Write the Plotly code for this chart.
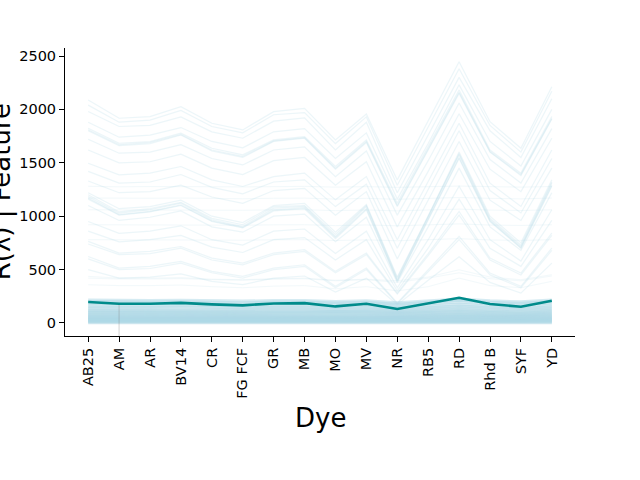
import plotly.graph_objects as go

dyes = ["AB25", "AM", "AR", "BV14", "CR", "FG FCF", "GR", "MB", "MO", "MV",
        "NR", "RB5", "RD", "Rhd B", "SYF", "YD"]

# mean profile (thick teal line)
mean_vals = [196, 180, 180, 188, 174, 165, 183, 186, 155, 180, 131, 180, 236, 177, 152, 208]

# individual feature profiles (faint lines)
upper_lines = [
    [2088, 1917, 1933, 2026, 1870, 1808, 1979, 2010, 1714, 1957, 1340, 1890, 2447, 1885, 1636, 2213],
    [2040, 1880, 1900, 1990, 1840, 1780, 1950, 1970, 1680, 1930, 1290, 1840, 2380, 1850, 1600, 2170],
    [1980, 1840, 1850, 1930, 1790, 1730, 1890, 1920, 1620, 1880, 1220, 1760, 2300, 1800, 1550, 2100],
    [1880, 1740, 1760, 1830, 1700, 1640, 1790, 1820, 1540, 1780, 1160, 1680, 2230, 1700, 1470, 2000],
    [1823, 1683, 1699, 1777, 1636, 1574, 1714, 1746, 1465, 1714, 1122, 1650, 2182, 1620, 1403, 1933],
    [1810, 1670, 1690, 1765, 1620, 1560, 1705, 1735, 1450, 1700, 1100, 1630, 2160, 1605, 1390, 1915],
    [1800, 1660, 1680, 1760, 1610, 1550, 1700, 1730, 1440, 1690, 1090, 1620, 2150, 1600, 1380, 1910],
    [1720, 1590, 1600, 1670, 1540, 1480, 1620, 1650, 1370, 1610, 1010, 1520, 2060, 1530, 1310, 1820],
    [1620, 1500, 1510, 1580, 1450, 1390, 1520, 1550, 1290, 1510, 900, 1420, 1960, 1440, 1230, 1730],
    [1496, 1387, 1403, 1465, 1340, 1278, 1371, 1403, 1153, 1371, 779, 1320, 1870, 1309, 1091, 1620],
    [1420, 1310, 1320, 1390, 1270, 1210, 1320, 1340, 1090, 1300, 700, 1250, 1800, 1240, 1030, 1540],
    [1330, 1220, 1230, 1290, 1180, 1120, 1240, 1260, 1010, 1230, 600, 1150, 1700, 1150, 960, 1450],
    [1220, 1070, 1090, 1150, 1000, 940, 1100, 1120, 850, 1110, 430, 1000, 1600, 1000, 750, 1340],
    [1184, 1028, 1060, 1122, 966, 903, 1075, 1091, 810, 1091, 405, 990, 1574, 966, 716, 1309],
    [1200, 1040, 1070, 1130, 980, 920, 1090, 1100, 830, 1100, 420, 1000, 1585, 980, 730, 1320],
    [1170, 1015, 1045, 1105, 955, 895, 1060, 1080, 800, 1070, 395, 970, 1550, 955, 705, 1290],
    [1160, 1010, 1040, 1100, 950, 890, 1050, 1070, 790, 1060, 390, 960, 1540, 950, 700, 1280],
    [1100, 960, 990, 1050, 900, 850, 1000, 1020, 760, 990, 380, 900, 1450, 900, 680, 1220],
    [950, 840, 860, 910, 780, 730, 860, 880, 650, 860, 330, 780, 1280, 780, 580, 1060],
    [860, 760, 780, 820, 710, 660, 780, 800, 590, 780, 300, 700, 1160, 700, 530, 960],
    [764, 655, 670, 716, 607, 561, 655, 686, 483, 655, 280, 650, 1044, 607, 467, 841],
    [740, 640, 650, 700, 590, 545, 640, 670, 470, 640, 270, 630, 1010, 590, 450, 820],
    [623, 514, 530, 577, 483, 436, 514, 545, 343, 514, 187, 500, 810, 467, 343, 701],
    [600, 500, 510, 560, 470, 420, 500, 530, 330, 500, 180, 480, 780, 450, 330, 680],
    [500, 420, 430, 460, 390, 360, 420, 440, 290, 420, 170, 400, 620, 380, 280, 560],
]

flat_lines = [
    [1280, 1275, 1278, 1280, 1276, 1274, 1278, 1279, 1272, 1277, 1270, 1276, 1282, 1277, 1272, 1278],
    [1170, 1166, 1168, 1170, 1165, 1163, 1168, 1169, 1160, 1167, 1158, 1166, 1175, 1167, 1162, 1170],
    [1060, 1058, 1059, 1061, 1057, 1055, 1059, 1060, 1052, 1058, 1050, 1058, 1066, 1057, 1053, 1060],
    [920, 918, 919, 921, 917, 915, 919, 920, 912, 918, 910, 918, 928, 917, 913, 920],
    [780, 778, 779, 781, 777, 775, 779, 780, 772, 778, 770, 778, 790, 777, 773, 780],
    [436, 420, 420, 425, 410, 405, 415, 420, 400, 410, 395, 430, 498, 430, 405, 452],
    [420, 412, 412, 416, 405, 400, 410, 414, 395, 405, 380, 420, 470, 415, 395, 440],
    [358, 350, 350, 355, 340, 330, 345, 350, 320, 340, 300, 340, 420, 350, 330, 390],
]

low_lines = [
    [215, 210, 210, 212, 208, 205, 210, 211, 200, 208, 190, 205, 225, 207, 198, 215],
    [200, 196, 196, 198, 193, 190, 196, 197, 186, 194, 175, 192, 212, 193, 184, 202],
    [185, 181, 182, 183, 179, 176, 181, 182, 172, 180, 162, 178, 196, 178, 170, 188],
    [165, 162, 162, 164, 160, 158, 162, 163, 154, 161, 146, 160, 176, 160, 152, 168],
    [150, 147, 147, 149, 145, 143, 147, 148, 140, 146, 132, 145, 160, 145, 138, 153],
    [135, 133, 133, 134, 131, 129, 133, 134, 127, 132, 120, 131, 144, 131, 125, 138],
    [120, 118, 118, 119, 116, 115, 118, 119, 113, 117, 107, 117, 128, 116, 111, 123],
    [110, 108, 108, 109, 107, 105, 108, 109, 103, 107, 98, 107, 117, 106, 101, 112],
    [100, 98, 98, 99, 97, 96, 98, 99, 94, 97, 90, 97, 106, 97, 92, 102],
    [90, 88, 88, 89, 87, 86, 88, 89, 85, 87, 81, 87, 95, 87, 83, 92],
    [80, 79, 79, 80, 78, 77, 79, 79, 76, 78, 73, 78, 85, 78, 74, 82],
    [72, 71, 71, 72, 70, 69, 71, 71, 68, 70, 66, 70, 76, 70, 67, 74],
    [64, 63, 63, 64, 62, 61, 63, 63, 61, 62, 59, 62, 68, 62, 60, 66],
    [57, 56, 56, 57, 55, 55, 56, 56, 54, 55, 52, 55, 60, 55, 53, 58],
    [50, 49, 49, 50, 49, 48, 49, 49, 48, 49, 46, 49, 53, 49, 47, 51],
    [44, 43, 43, 44, 43, 42, 43, 43, 42, 43, 41, 43, 46, 43, 41, 45],
    [38, 37, 37, 38, 37, 36, 37, 37, 36, 37, 35, 37, 40, 37, 35, 39],
    [32, 31, 31, 32, 31, 31, 31, 31, 30, 31, 30, 31, 34, 31, 30, 33],
    [26, 26, 26, 26, 25, 25, 26, 26, 25, 25, 24, 25, 28, 25, 24, 27],
    [20, 20, 20, 20, 20, 19, 20, 20, 19, 20, 19, 20, 22, 20, 19, 21],
    [14, 14, 14, 14, 14, 13, 14, 14, 13, 14, 13, 14, 15, 14, 13, 15],
    [8, 8, 8, 8, 8, 8, 8, 8, 8, 8, 7, 8, 9, 8, 8, 9],
    [3, 3, 3, 3, 3, 3, 3, 3, 3, 3, 3, 3, 3, 3, 3, 3],
]

y_range = [-122, 2575]
x_range = [-0.75, 15.75]

fig = go.Figure()

for ys in upper_lines:
    fig.add_trace(go.Scatter(x=dyes, y=ys, mode="lines",
                             line=dict(color="rgb(173,216,230)", width=1.2),
                             opacity=0.22, showlegend=False, hoverinfo="skip"))
for ys in flat_lines:
    fig.add_trace(go.Scatter(x=dyes, y=ys, mode="lines",
                             line=dict(color="rgb(173,216,230)", width=1),
                             opacity=0.15, showlegend=False, hoverinfo="skip"))
for ys in low_lines:
    fig.add_trace(go.Scatter(x=dyes, y=ys, mode="lines",
                             line=dict(color="rgb(173,216,230)", width=3),
                             opacity=0.5, showlegend=False, hoverinfo="skip"))

# thin vertical marker at AM
fig.add_trace(go.Scatter(x=[dyes[1], dyes[1]], y=[y_range[0], mean_vals[1]], mode="lines",
                         line=dict(color="rgba(128,128,128,0.35)", width=1),
                         showlegend=False, hoverinfo="skip"))

fig.add_trace(go.Scatter(x=dyes, y=mean_vals, mode="lines",
                         line=dict(color="#008b8b", width=2.6),
                         showlegend=False, hoverinfo="skip"))

fig.update_layout(
    width=640, height=480,
    margin=dict(l=65, r=65, t=48, b=144),
    paper_bgcolor="white", plot_bgcolor="white",
    font=dict(family="DejaVu Sans", color="black"),
    xaxis=dict(type="category", categoryorder="array", categoryarray=dyes,
               range=x_range, showgrid=False, zeroline=False,
               showline=True, linecolor="black", linewidth=1,
               ticks="outside", ticklen=5, tickwidth=1, tickcolor="black",
               tickangle=-90, tickfont=dict(size=14.5, family="DejaVu Sans", color="black")),
    yaxis=dict(range=y_range, showgrid=False, zeroline=False,
               showline=True, linecolor="black", linewidth=1,
               ticks="outside", ticklen=5, tickwidth=1, tickcolor="black",
               tickvals=[0, 500, 1000, 1500, 2000, 2500],
               tickfont=dict(size=14.5, family="DejaVu Sans", color="black")),
    annotations=[
        dict(text="Dye", xref="paper", yref="paper", x=0.5, y=-0.285,
             xanchor="center", yanchor="middle", showarrow=False,
             font=dict(size=26, family="DejaVu Sans", color="black")),
        dict(text="R(λ) | Feature", xref="paper", yref="paper", x=-0.125, y=0.5,
             xanchor="center", yanchor="middle", textangle=-90, showarrow=False,
             font=dict(size=26, family="DejaVu Sans", color="black")),
    ],
)

fig.write_html("out.html")
